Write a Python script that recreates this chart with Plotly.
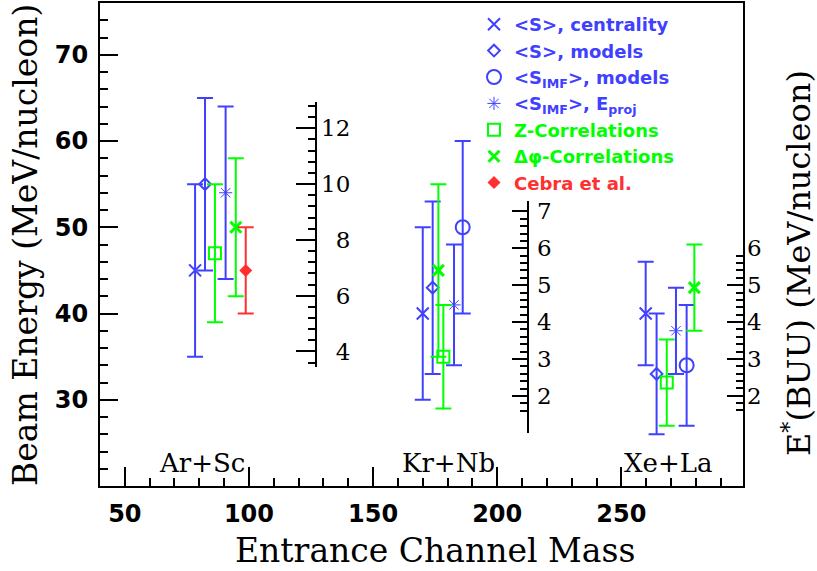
import numpy as np
import plotly.graph_objects as go

# ---------------- data ----------------
centrality_mass = [78.3, 170.0, 259.8]
centrality_E = [45, 40, 40]
centrality_err = [10, 10, 6]

smodels_mass = [82.3, 174.0, 264.2]
smodels_E = [55, 43, 33]
smodels_err = [10, 10, 7]

simf_models_mass = [186.1, 276.3]
simf_models_E = [50, 34]
simf_models_err = [10, 7]

simf_eproj_mass = [90.6, 182.6, 272.0]
simf_eproj_E = [54, 41, 38]
simf_eproj_err = [10, 7, 5]

zcorr_mass = [86.3, 178.3, 268.3]
zcorr_E = [47, 35, 32]
zcorr_err = [8, 6, 5]

dphi_mass = [94.7, 176.3, 279.4]
dphi_E = [50, 45, 43]
dphi_err = [8, 10, 5]

cebra_mass = [98.7]
cebra_E = [45]
cebra_err = [5]

system_labels = ["Ar+Sc", "Kr+Nb", "Xe+La"]
system_label_mass = [81.2, 180.4, 268.8]
system_label_E = [22.7, 22.7, 22.7]

x_tickvals = [50, 100, 150, 200, 250]
y_tickvals = [30, 40, 50, 60, 70]
inner1_tickvals = [4, 6, 8, 10, 12]
inner2_tickvals = [2, 3, 4, 5, 6, 7]
buu_tickvals = [2, 3, 4, 5, 6]

# ---------------- styling ----------------
BLUE = "#4040ff"
GREEN = "#00ff00"
RED = "#ff3030"
SERIF = "DejaVu Serif"
SANS = "DejaVu Sans"

W, H = 817, 571
ML, MR, MT, MB = 100, 74, 3, 85


def series(mass, E, err, name, symbol, size, color, lw=2):
    return go.Scatter(
        x=mass, y=E, mode="markers", name=name,
        marker=dict(symbol=symbol, size=size, color=color,
                    line=dict(color=color, width=lw)),
        error_y=dict(type="data", array=err, visible=True, color=color,
                     thickness=2, width=8),
        hoverinfo="skip",
    )


def lg(text, color):
    return f'<span style="color:{color}">{text}</span>'


fig = go.Figure()
fig.add_trace(series(centrality_mass, centrality_E, centrality_err,
                     lg("&lt;S&gt;, centrality", BLUE), "x-thin-open", 12, BLUE))
fig.add_trace(series(smodels_mass, smodels_E, smodels_err,
                     lg("&lt;S&gt;, models", BLUE), "diamond-open", 9, BLUE))
fig.add_trace(series(simf_models_mass, simf_models_E, simf_models_err,
                     lg("&lt;S<sub>IMF</sub>&gt;, models", BLUE), "circle-open", 14, BLUE))
fig.add_trace(series(simf_eproj_mass, simf_eproj_E, simf_eproj_err,
                     lg("&lt;S<sub>IMF</sub>&gt;, E<sub>proj</sub>", BLUE), "asterisk-open", 11, BLUE, 1))
fig.add_trace(series(zcorr_mass, zcorr_E, zcorr_err,
                     lg("Z-Correlations", GREEN), "square-open", 12, GREEN))
fig.add_trace(series(dphi_mass, dphi_E, dphi_err,
                     lg("Δφ-Correlations", GREEN), "x-thin-open", 11, GREEN, 3))
fig.add_trace(series(cebra_mass, cebra_E, cebra_err,
                     lg("Cebra et al.", RED), "diamond", 10, RED, 0))

# empty helper traces so the secondary scales get drawn
for ya in ["y2", "y3", "y4"]:
    fig.add_trace(go.Scatter(x=[None], y=[None], yaxis=ya, showlegend=False,
                             hoverinfo="skip", mode="markers"))

pw = W - ML - MR
ph = H - MT - MB


def px_to_xfrac(px):
    return (px - ML) / pw


def py_to_yfrac(py):
    return (H - MB - py) / ph


common = dict(showgrid=False, zeroline=False, linecolor="black", tickcolor="black")

fig.update_layout(
    width=W, height=H,
    margin=dict(l=ML, r=MR, t=MT, b=MB, pad=0, autoexpand=False),
    paper_bgcolor="white", plot_bgcolor="rgba(0,0,0,0)",
    showlegend=True,
    legend=dict(x=px_to_xfrac(474), y=py_to_yfrac(6), xanchor="left", yanchor="top",
                bgcolor="rgba(0,0,0,0)", borderwidth=0,
                font=dict(family=SANS, size=18, color="black", weight="bold"),
                tracegroupgap=0, itemwidth=30),
    xaxis=dict(range=[40, 299], tickmode="array", tickvals=x_tickvals,
               ticks="inside", ticklen=19, tickwidth=2,
               minor=dict(dtick=10, tick0=0, ticklen=8, tickwidth=2, ticks="inside"),
               showline=True, linewidth=2, mirror=True, ticklabelstandoff=5,
               tickfont=dict(family=SANS, size=24, color="black", weight="bold"),
               **common),
    yaxis=dict(range=[20, 76], tickmode="array", tickvals=y_tickvals,
               ticks="inside", ticklen=18, tickwidth=2,
               minor=dict(dtick=2, tick0=0, ticklen=8, tickwidth=2, ticks="inside"),
               showline=True, linewidth=2, mirror=True, ticklabelstandoff=5,
               tickfont=dict(family=SANS, size=24, color="black", weight="bold"),
               **common),
    yaxis2=dict(range=[3.45, 12.95], domain=[py_to_yfrac(366.8), py_to_yfrac(101.8)],
                anchor="free", position=px_to_xfrac(315.5), side="right",
                tickmode="array", tickvals=inner1_tickvals,
                ticktext=["\u2007" + str(v) if v < 10 else str(v) for v in inner1_tickvals],
                ticks="inside", ticklen=19, tickwidth=2,
                minor=dict(tickmode="array",
                           tickvals=[round(v, 2) for v in np.arange(3.6, 12.81, 0.4)],
                           ticklen=7, tickwidth=2, ticks="inside"),
                showline=True, linewidth=2,
                tickfont=dict(family=SERIF, size=23, color="black"),
                **common),
    yaxis3=dict(range=[0.99, 7.27], domain=[py_to_yfrac(433.2), py_to_yfrac(201.4)],
                anchor="free", position=px_to_xfrac(528.3), side="right",
                tickmode="array", tickvals=inner2_tickvals,
                ticks="inside", ticklen=15, tickwidth=2,
                minor=dict(tickmode="array",
                           tickvals=[round(v, 2) for v in np.arange(1.6, 7.01, 0.2)],
                           ticklen=7, tickwidth=2, ticks="inside"),
                showline=True, linewidth=2, ticklabelstandoff=3,
                tickfont=dict(family=SERIF, size=23, color="black"),
                **common),
    yaxis4=dict(range=[1.55, 6.02], domain=[py_to_yfrac(412.3), py_to_yfrac(247.6)],
                anchor="free", position=1.0, side="right",
                tickmode="array", tickvals=buu_tickvals,
                ticks="inside", ticklen=16, tickwidth=2,
                minor=dict(tickmode="array",
                           tickvals=[round(v, 2) for v in np.arange(1.6, 6.01, 0.2)],
                           ticklen=7, tickwidth=2, ticks="inside"),
                showline=False, ticklabelstandoff=3,
                tickfont=dict(family=SERIF, size=23, color="black"),
                **common),
)

annotations = [
    dict(text="Entrance Channel Mass", xref="paper", yref="paper",
         x=px_to_xfrac(435), y=py_to_yfrac(550), xanchor="center", yanchor="middle",
         showarrow=False, font=dict(family=SERIF, size=33, color="black")),
    dict(text="Beam Energy (MeV/nucleon)", xref="paper", yref="paper",
         x=px_to_xfrac(25), y=py_to_yfrac(245), xanchor="center", yanchor="middle",
         textangle=-90, showarrow=False, font=dict(family=SERIF, size=33, color="black")),
    dict(text="E<sup>*</sup>(BUU) (MeV/nucleon)", xref="paper", yref="paper",
         x=px_to_xfrac(797), y=py_to_yfrac(263), xanchor="center", yanchor="middle",
         textangle=-90, showarrow=False, font=dict(family=SERIF, size=32, color="black")),
]
for lab, m, e in zip(system_labels, system_label_mass, system_label_E):
    annotations.append(dict(text=lab, x=m, y=e, xref="x", yref="y",
                            xanchor="center", yanchor="middle", showarrow=False,
                            font=dict(family=SERIF, size=26, color="black")))
fig.update_layout(annotations=annotations)

fig.write_html(
    "out.html",
    config={"displayModeBar": False},
    post_script="document.body.style.margin='0px';document.body.style.overflow='hidden';",
)
